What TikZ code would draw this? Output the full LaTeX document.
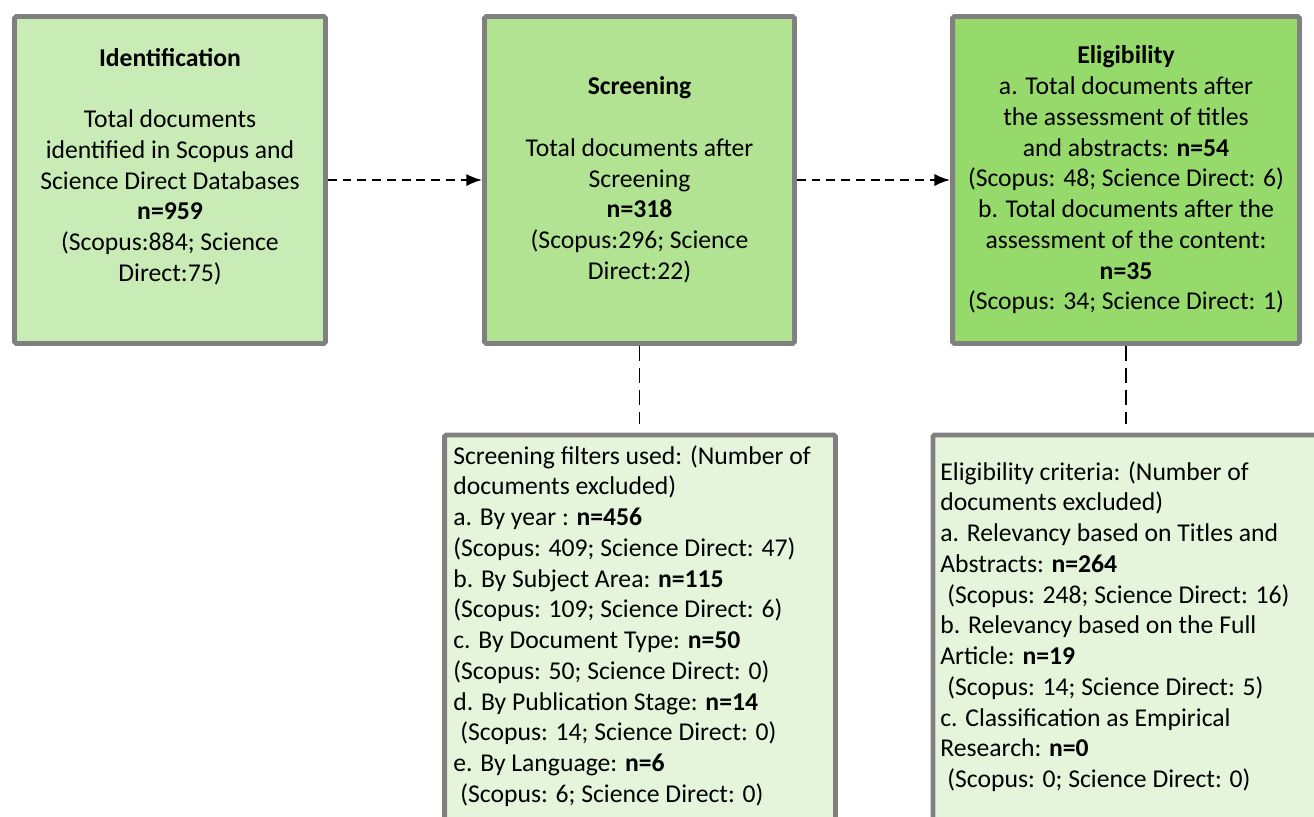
\documentclass[tikz,border=0pt]{standalone}
\usepackage{fontspec}
\setmainfont{Carlito}
\usetikzlibrary{arrows.meta}
\definecolor{identfill}{HTML}{C9EBB6}
\definecolor{screenfill}{HTML}{B1E393}
\definecolor{eligfill}{HTML}{96DA6C}
\definecolor{notefill}{HTML}{E4F5DB}
\definecolor{boxgray}{HTML}{808080}
\begin{document}
\begin{tikzpicture}[
    x=0.02cm, y=-0.02cm,
    font=\fontsize{14.6pt}{17.5pt}\selectfont,
    stage/.style={rectangle, draw=boxgray, line width=2.8pt, rounded corners=1pt, minimum height=6.54cm, inner sep=0pt, align=center},
    note/.style={rectangle, draw=boxgray, line width=2.8pt, rounded corners=1pt, fill=notefill, minimum height=8.8cm},
    notetext/.style={anchor=north west, align=left, inner sep=0pt},
    arrow/.style={-{Latex[length=9pt,width=7pt]}, line width=1.1pt, dash pattern=on 5pt off 3.4pt},
    link/.style={line width=1.1pt, dash pattern=on 8.5pt off 4pt}
]
    \useasboundingbox (0,0) rectangle (1314,816);
    \clip (0,0) rectangle (1314,816);

    % Stages
    \node[stage, fill=identfill, minimum width=6.22cm] (ident) at (170,180)
        {\textbf{Identification}\\[17.5pt]
         Total documents\\
         identified in Scopus and\\
         Science Direct Databases\\
         \textbf{n=959}\\
         (Scopus:884; Science\\
         Direct:75)\\
         \mbox{}};
    \node[stage, fill=screenfill, minimum width=6.2cm] (screen) at (639.5,180)
        {\textbf{Screening}\\[17.5pt]
         Total documents after\\
         Screening\\
         \textbf{n=318}\\
         (Scopus:296; Science\\
         Direct:22)};
    \node[stage, fill=eligfill, minimum width=6.94cm] (elig) at (1126,180)
        {\textbf{Eligibility}\\
         a. Total documents after\\
         the assessment of titles\\
         and abstracts: \textbf{n=54}\\
         (Scopus: 48; Science Direct: 6)\\
         b. Total documents after the\\
         assessment of the content:\\
         \textbf{n=35}\\
         (Scopus: 34; Science Direct: 1)};

    % Exclusion notes
    \node[note, minimum width=7.82cm, anchor=north] (filters) at (640,432.5) {};
    \node[note, minimum width=9.4cm, anchor=north west] (criteria) at (930.5,432.5) {};

    \node[notetext] (filterstext) at (453,445)
        {Screening filters used: (Number of\\
         documents excluded)\\
         a. By year : \textbf{n=456}\\
         (Scopus: 409; Science Direct: 47)\\
         b. By Subject Area: \textbf{n=115}\\
         (Scopus: 109; Science Direct: 6)\\
         c. By Document Type: \textbf{n=50}\\
         (Scopus: 50; Science Direct: 0)\\
         d. By Publication Stage: \textbf{n=14}\\
         \hspace*{4pt}(Scopus: 14; Science Direct: 0)\\
         e. By Language: \textbf{n=6}\\
         \hspace*{4pt}(Scopus: 6; Science Direct: 0)};
    \node[notetext] (criteriatext) at (940,461)
        {Eligibility criteria: (Number of\\
         documents excluded)\\
         a. Relevancy based on Titles and\\
         Abstracts: \textbf{n=264}\\
         \hspace*{4pt}(Scopus: 248; Science Direct: 16)\\
         b. Relevancy based on the Full\\
         Article: \textbf{n=19}\\
         \hspace*{4pt}(Scopus: 14; Science Direct: 5)\\
         c. Classification as Empirical\\
         Research: \textbf{n=0}\\
         \hspace*{4pt}(Scopus: 0; Science Direct: 0)};

    % Arrows
    \draw[arrow] (ident) -- (screen);
    \draw[arrow] (screen) -- (elig);

    \draw[link, shorten >=5pt] (screen.south) -- (screen.south |- filters.north);
    \draw[link, shorten >=5pt] (elig.south) -- (elig.south |- criteria.north);
\end{tikzpicture}
\end{document}
